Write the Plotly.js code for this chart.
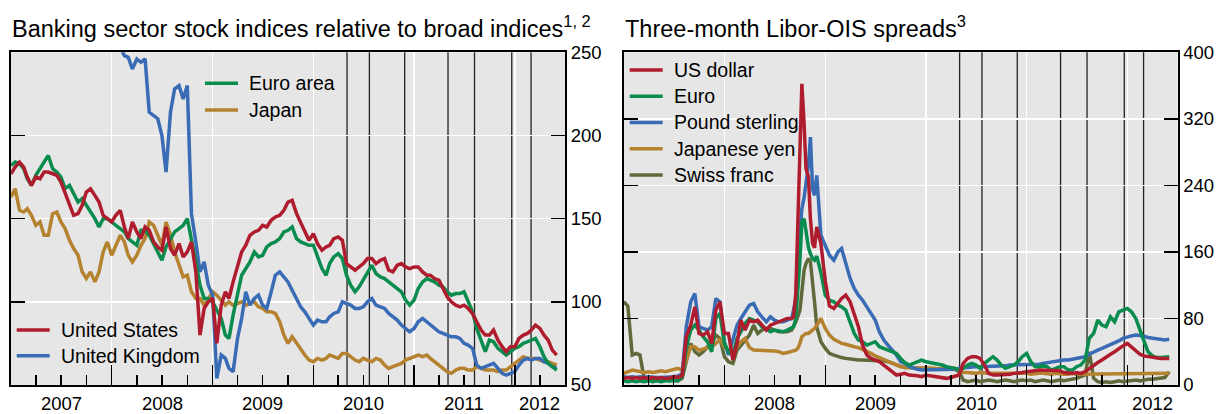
<!DOCTYPE html>
<html><head><meta charset="utf-8">
<script src="https://cdn.plot.ly/plotly-3.0.1.min.js"></script>
<style>html,body{margin:0;padding:0;background:#fff}</style>
</head><body><div id="chart" style="width:1228px;height:414px"></div>
<script>
// ---------- DATA ----------
const datesL = [
"2007-01-01","2007-01-16","2007-02-01","2007-02-16","2007-03-01","2007-03-16","2007-04-01","2007-04-16","2007-05-01","2007-05-16","2007-06-01","2007-06-16","2007-07-01","2007-07-16","2007-08-01","2007-08-16","2007-09-01","2007-09-16","2007-10-01","2007-10-16","2007-11-01","2007-11-16","2007-12-01","2007-12-16",
"2008-01-01","2008-01-16","2008-02-01","2008-02-16","2008-03-01","2008-03-16","2008-04-01","2008-04-16","2008-05-01","2008-05-16","2008-06-01","2008-06-16","2008-07-01","2008-07-16","2008-08-01","2008-08-16","2008-09-01","2008-09-16","2008-10-01","2008-10-16","2008-11-01","2008-11-16","2008-12-01","2008-12-16",
"2009-01-01","2009-01-16","2009-02-01","2009-02-16","2009-03-01","2009-03-16","2009-04-01","2009-04-16","2009-05-01","2009-05-16","2009-06-01","2009-06-16","2009-07-01","2009-07-16","2009-08-01","2009-08-16","2009-09-01","2009-09-16","2009-10-01","2009-10-16","2009-11-01","2009-11-16","2009-12-01","2009-12-16",
"2010-01-01","2010-01-16","2010-02-01","2010-02-16","2010-03-01","2010-03-16","2010-04-01","2010-04-16","2010-05-01","2010-05-16","2010-06-01","2010-06-16","2010-07-01","2010-07-16","2010-08-01","2010-08-16","2010-09-01","2010-09-16","2010-10-01","2010-10-16","2010-11-01","2010-11-16","2010-12-01","2010-12-16",
"2011-01-01","2011-01-16","2011-02-01","2011-02-16","2011-03-01","2011-03-16","2011-04-01","2011-04-16","2011-05-01","2011-05-16","2011-06-01","2011-06-16","2011-07-01","2011-07-16","2011-08-01","2011-08-16","2011-09-01","2011-09-16","2011-10-01","2011-10-16","2011-11-01","2011-11-16","2011-12-01","2011-12-16",
"2012-01-01","2012-01-16","2012-02-01","2012-02-16","2012-03-01","2012-03-16","2012-04-01","2012-04-16","2012-05-01","2012-05-16","2012-06-01"];

const unitedStates = [
177,181,184,181,175,170,175,174,178,178,
177,176,172,165,158,152,153,158,166,168,
164,160,152,150,148,152,155,145,138,148,
142,138,145,143,136,133,131,145,132,128,
135,127,130,136,118,80,96,100,102,75,
98,106,102,112,122,130,134,140,142,143,
146,145,149,151,152,155,160,161,153,148,
142,137,141,135,131,133,134,138,139,137,
123,121,119,121,123,126,126,123,125,126,
119,118,122,123,121,120,121,121,118,116,
116,114,113,108,103,100,98,97,98,96,
93,88,83,80,80,83,77,73,70,73,
73,78,80,81,83,86,84,80,77,71,
68];

const euroArea = [
182,184,183,180,174,170,176,180,184,188,
180,178,175,168,170,165,160,162,158,154,
150,145,150,150,148,146,144,142,138,136,
134,143,143,140,135,130,125,133,138,142,
144,146,150,138,124,110,102,102,100,95,
90,80,78,92,105,116,120,124,130,127,
128,133,135,136,138,142,143,145,138,136,
135,134,134,127,120,116,123,127,129,126,
116,110,106,109,113,117,122,117,115,114,
112,110,108,106,101,98,101,108,112,114,
113,112,110,109,106,104,105,105,106,100,
94,84,76,70,77,76,72,70,68,70,
72,73,75,76,77,78,73,67,63,61,
59];

const unitedKingdom = [
300,305,302,298,295,300,296,292,290,288,
285,282,280,285,282,278,275,272,270,268,
265,266,262,260,258,256,253,248,247,240,
246,244,246,214,212,210,200,178,214,228,
230,222,230,153,136,118,124,110,104,54,
68,66,60,58,78,90,106,98,102,104,
98,96,106,116,118,115,112,107,102,97,
94,90,86,89,88,88,91,93,94,100,
99,98,96,96,97,100,102,98,97,96,
93,91,89,86,84,82,84,88,90,88,
86,84,82,81,80,79,79,78,75,74,
72,62,60,61,62,63,60,57,56,57,
58,62,65,66,65,66,66,64,63,61,
60];

const japan = [
163,168,155,154,156,152,146,148,140,140,
153,154,148,144,137,132,128,118,114,118,
112,118,130,136,128,134,140,136,128,124,
128,134,138,148,146,140,134,148,140,130,
122,115,116,106,102,102,98,102,106,104,
101,98,100,98,99,100,98,99,100,97,
96,94,94,93,88,80,75,79,75,71,
68,65,64,66,65,66,68,67,66,69,
69,67,65,64,66,65,64,66,65,62,
60,61,62,63,65,66,67,68,67,68,
66,64,62,60,58,57,59,60,60,59,
59,61,60,59,59,59,58,59,59,61,
63,65,67,66,66,66,65,64,64,63,
62];

const datesR = [
"2007-01-01","2007-01-16","2007-02-01","2007-02-16","2007-03-01","2007-03-16","2007-04-01","2007-04-16","2007-05-01","2007-05-16","2007-06-01","2007-06-16","2007-07-01","2007-07-16","2007-08-01","2007-08-16","2007-09-01","2007-09-16","2007-10-01","2007-10-16","2007-11-01","2007-11-16","2007-12-01","2007-12-16",
"2008-01-01","2008-01-16","2008-02-01","2008-02-16","2008-03-01","2008-03-16","2008-04-01","2008-04-16","2008-05-01","2008-05-16","2008-06-01","2008-06-16","2008-07-01","2008-07-16","2008-08-01","2008-08-16",
"2008-09-01","2008-09-08","2008-09-16","2008-09-23","2008-10-01","2008-10-08","2008-10-16","2008-10-23","2008-11-01","2008-11-08","2008-11-16","2008-11-23","2008-12-01","2008-12-16",
"2009-01-01","2009-01-16","2009-02-01","2009-02-16","2009-03-01","2009-03-16","2009-04-01","2009-04-16","2009-05-01","2009-05-16","2009-06-01","2009-06-16","2009-07-01","2009-07-16","2009-08-01","2009-08-16","2009-09-01","2009-09-16","2009-10-01","2009-10-16","2009-11-01","2009-11-16","2009-12-01","2009-12-16",
"2010-01-01","2010-01-16","2010-02-01","2010-02-16","2010-03-01","2010-03-16","2010-04-01","2010-04-16","2010-05-01","2010-05-16","2010-06-01","2010-06-16","2010-07-01","2010-07-16","2010-08-01","2010-08-16","2010-09-01","2010-09-16","2010-10-01","2010-10-16","2010-11-01","2010-11-16","2010-12-01","2010-12-16",
"2011-01-01","2011-01-16","2011-02-01","2011-02-16","2011-03-01","2011-03-16","2011-04-01","2011-04-16","2011-05-01","2011-05-16","2011-06-01","2011-06-16","2011-07-01","2011-07-16","2011-08-01","2011-08-16","2011-09-01","2011-09-16","2011-10-01","2011-10-16","2011-11-01","2011-11-16","2011-12-01","2011-12-16",
"2012-01-01","2012-01-16","2012-02-01","2012-02-16","2012-03-01","2012-03-16","2012-04-01","2012-04-16","2012-05-01","2012-05-16","2012-06-01"];

const usDollar = [
8,9,8,9,8,9,8,9,8,9,
8,8,10,9,11,58,72,94,62,60,
64,50,90,100,62,62,30,50,78,66,
78,76,78,72,66,72,74,76,78,80,
80,82,110,200,280,362,315,260,250,200,170,165,
190,170,125,95,
92,98,104,108,100,85,70,48,36,32,
30,28,24,20,16,12,13,14,12,12,
11,10,12,11,10,9,8,8,9,10,
12,26,32,34,34,32,24,14,12,12,
12,12,13,14,14,15,16,16,17,18,
18,18,17,18,17,15,14,14,15,14,
16,20,24,27,30,34,37,40,44,47,
50,46,42,37,35,34,33,33,32,32,
32];

const euro = [
5,4,5,4,5,4,5,4,5,4,
5,5,6,5,10,45,66,72,66,58,
52,40,80,86,50,40,36,56,64,74,
80,78,76,70,68,64,66,65,64,66,
68,70,80,110,150,196,200,185,165,158,152,150,
155,135,108,102,
100,96,94,90,76,62,54,52,48,50,
52,46,44,42,40,38,32,27,24,26,
28,30,28,27,26,24,24,22,21,20,
18,20,24,26,24,20,26,30,34,30,
24,20,22,24,28,34,38,28,22,22,
24,22,18,20,22,22,18,18,22,24,
30,56,62,78,72,70,82,76,88,90,
92,88,80,66,52,40,35,33,33,33,
34];

const poundSterling = [
10,9,10,9,10,9,10,9,9,9,
9,10,10,11,13,70,100,110,70,68,
66,70,104,100,52,36,54,72,80,88,
96,98,88,82,76,82,78,76,76,78,
80,90,104,150,190,212,225,240,265,298,235,228,
252,180,168,156,
150,160,164,145,128,116,108,102,94,86,
78,64,54,48,42,36,28,26,22,20,
19,18,18,18,18,18,18,18,19,19,
20,21,21,22,22,22,22,23,23,23,
23,23,24,24,24,24,24,25,25,25,
26,27,28,28,29,30,30,31,32,32,
34,37,40,42,44,46,48,50,53,56,
58,59,60,60,59,57,56,55,54,54,
55];

const japaneseYen = [
14,16,18,17,16,15,16,15,16,17,
16,17,18,20,18,30,46,46,42,43,
44,46,50,55,46,42,40,46,52,56,
45,42,42,42,42,41,41,40,38,39,
40,41,42,44,50,58,60,62,62,64,66,68,
72,80,68,60,
55,52,50,49,48,46,45,43,40,38,
35,33,30,28,26,24,22,21,21,20,
20,20,21,20,20,19,20,20,20,20,
18,15,15,14,14,15,14,14,14,14,
14,14,15,14,14,14,14,13,14,14,
14,13,13,14,13,13,13,14,13,13,
13,13,14,13,13,13,13,14,13,13,
13,14,13,13,13,14,13,13,14,14,
14];

const swissFranc = [
100,95,36,38,36,8,6,5,6,5,
6,5,6,5,8,28,50,40,36,40,
46,48,60,56,34,28,26,42,48,54,
60,72,62,66,68,68,66,64,64,64,
66,70,76,82,90,112,138,146,152,148,125,100,
70,52,44,38,
36,34,33,32,31,30,30,30,30,30,
30,30,29,28,26,24,22,21,21,20,
20,20,20,20,20,19,19,19,19,19,
16,6,4,5,6,4,5,6,5,4,
5,6,5,4,5,6,5,6,4,5,
6,5,4,5,6,5,6,7,8,10,
12,40,8,4,3,4,3,4,5,4,
5,6,6,5,6,7,7,8,8,9,
16];

const eventDates = ["2010-05-03","2010-07-23","2010-11-28","2011-05-04","2011-08-08","2011-12-21","2012-02-29"];
const yearStarts = ["2008-01-01","2009-01-01","2010-01-01","2011-01-01","2012-01-01"];
const quarterTicks = ["2007-04-01","2007-07-01","2007-10-01","2008-01-01","2008-04-01","2008-07-01","2008-10-01",
  "2009-01-01","2009-04-01","2009-07-01","2009-10-01","2010-01-01","2010-04-01","2010-07-01","2010-10-01",
  "2011-01-01","2011-04-01","2011-07-01","2011-10-01","2012-01-01","2012-04-01"];
const yearLabelDates = ["2007-07-02","2008-07-02","2009-07-02","2010-07-02","2011-07-02","2012-04-01"];
const yearLabels = ["2007","2008","2009","2010","2011","2012"];
const leftTicks = [50,100,150,200,250];
const rightTicks = [0,80,160,240,320,400];

// ---------- STYLE ----------
const W = 1228, H = 414;
const FONT = '"Liberation Sans", Arial, Helvetica, sans-serif';
const C = {red:'#AF1C2E', green:'#0A8C4E', blue:'#3A6CB6', gold:'#B5822F', olive:'#5F6A3A'};
const LW = 3.5;
const px = v => v / W, py = v => 1 - v / H;
const xDomL = [px(11), px(565)], xDomR = [px(623.7), px(1177.5)];
const yDom = [py(385), py(52.3)];

function line(x, y, name, color, xa, ya){
  return {type:'scatter', mode:'lines', x:x, y:y, name:name, xaxis:xa, yaxis:ya,
          line:{color:color, width:LW}, showlegend:false, hoverinfo:'skip'};
}
const traces = [
  line(datesL, japan, 'Japan', C.gold, 'x', 'y'),
  line(datesL, unitedKingdom, 'United Kingdom', C.blue, 'x', 'y'),
  line(datesL, euroArea, 'Euro area', C.green, 'x', 'y'),
  line(datesL, unitedStates, 'United States', C.red, 'x', 'y'),
  line(datesR, swissFranc, 'Swiss franc', C.olive, 'x2', 'y2'),
  line(datesR, japaneseYen, 'Japanese yen', C.gold, 'x2', 'y2'),
  line(datesR, poundSterling, 'Pound sterling', C.blue, 'x2', 'y2'),
  line(datesR, euro, 'Euro', C.green, 'x2', 'y2'),
  line(datesR, usDollar, 'US dollar', C.red, 'x2', 'y2')
];

function xaxis(domain, anchor){
  return {domain:domain, anchor:anchor, type:'date', range:['2007-01-01','2012-07-01'],
    tickmode:'array', tickvals:yearStarts, showticklabels:false,
    ticks:'inside', ticklen:20, tickwidth:1.5, tickcolor:'#000',
    showgrid:true, gridcolor:'#fff', gridwidth:1.5,
    showline:true, linecolor:'#000', linewidth:2, mirror:true, zeroline:false, fixedrange:true,
    minor:{tickmode:'array', tickvals:quarterTicks, ticks:'inside', ticklen:10,
           tickwidth:1.5, tickcolor:'#000', showgrid:false}};
}
function yaxis(anchor, range, tickvals){
  return {domain:yDom, anchor:anchor, side:'right', range:range, tickmode:'array', tickvals:tickvals,
    ticks:'inside', ticklen:14, tickwidth:1.5, tickcolor:'#000',
    showgrid:true, gridcolor:'#fff', gridwidth:1.5,
    showline:true, linecolor:'#000', linewidth:2, mirror:'ticks', zeroline:false, fixedrange:true,
    tickfont:{family:FONT, size:18.5, color:'#000'}};
}

const shapes = [];
eventDates.forEach(d => {
  shapes.push({type:'line', layer:'below', xref:'x', yref:'y domain', x0:d, x1:d, y0:0, y1:1, line:{color:'#222', width:1.3}});
  shapes.push({type:'line', layer:'below', xref:'x2', yref:'y2 domain', x0:d, x1:d, y0:0, y1:1, line:{color:'#222', width:1.3}});
});
shapes.push({type:'line', layer:'below', xref:'x domain', yref:'y', x0:0, x1:1, y0:100, y1:100, line:{color:'#000', width:1.6}});

const annotations = [];
yearLabelDates.forEach((d, i) => {
  ['x','x2'].forEach(xr => annotations.push({xref:xr, yref:'paper', x:d, y:py(403), xanchor:'center', yanchor:'middle',
    text:yearLabels[i], showarrow:false, font:{family:FONT, size:18.5, color:'#000'}}));
});
annotations.push({xref:'paper', yref:'paper', x:px(10), y:py(27), xanchor:'left', yanchor:'middle', showarrow:false,
  text:'Banking sector stock indices relative to broad indices<sup>1, 2</sup>', font:{family:FONT, size:23.5, color:'#000'}});
annotations.push({xref:'paper', yref:'paper', x:px(623), y:py(27), xanchor:'left', yanchor:'middle', showarrow:false,
  text:'Three-month Libor-OIS spreads<sup>3</sup>', font:{family:FONT, size:23.5, color:'#000'}});

// legends (sample line + text)
function legend(items, x0, y0, gap){
  items.forEach((it, i) => {
    const y = y0 + i * gap;
    shapes.push({type:'line', xref:'paper', yref:'paper', x0:px(x0), x1:px(x0 + 33), y0:py(y), y1:py(y), line:{color:it[1], width:LW}});
    annotations.push({xref:'paper', yref:'paper', x:px(x0 + 42), y:py(y), xanchor:'left', yanchor:'middle', showarrow:false,
      text:it[0], font:{family:FONT, size:19.5, color:'#000'}});
  });
}
legend([['Euro area', C.green], ['Japan', C.gold]], 205, 83.3, 26.7);
legend([['United States', C.red], ['United Kingdom', C.blue]], 16.7, 330, 25.7);
legend([['US dollar', C.red], ['Euro', C.green], ['Pound sterling', C.blue], ['Japanese yen', C.gold], ['Swiss franc', C.olive]], 629.7, 70, 26.25);

const layout = {
  width:W, height:H, margin:{l:0, r:0, t:0, b:0}, paper_bgcolor:'#fff', plot_bgcolor:'#e6e6e6',
  font:{family:FONT, color:'#000'}, showlegend:false,
  xaxis:xaxis(xDomL, 'y'), yaxis:yaxis('x', [50,250], leftTicks),
  xaxis2:xaxis(xDomR, 'y2'), yaxis2:yaxis('x2', [0,400], rightTicks),
  shapes:shapes, annotations:annotations
};
Plotly.newPlot('chart', traces, layout, {staticPlot:true, displayModeBar:false});
</script></body></html>
